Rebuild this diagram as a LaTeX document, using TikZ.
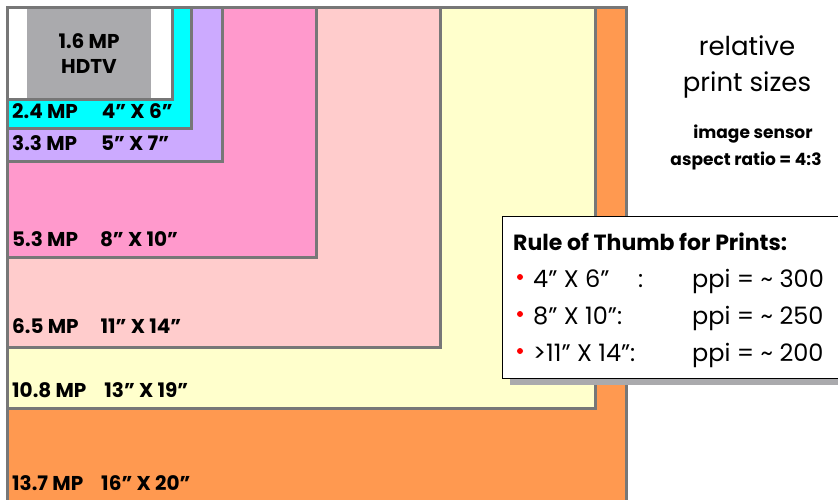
\documentclass[tikz,border=0pt]{standalone}
\usepackage{fontspec}
\setmainfont{Poppins}
\definecolor{cOrange}{RGB}{255,153,80}
\definecolor{cYellow}{RGB}{255,255,204}
\definecolor{cLpink}{RGB}{255,204,204}
\definecolor{cPink}{RGB}{255,153,204}
\definecolor{cLav}{RGB}{204,170,255}
\definecolor{cCyan}{RGB}{0,255,255}
\definecolor{cGray}{RGB}{170,170,173}
\definecolor{bordergray}{RGB}{119,119,119}
\begin{document}
\begin{tikzpicture}[x=1pt,y=-1pt,
  sizebox/.style={draw=bordergray, line width=3pt},
  lbl/.style={anchor=base west, inner sep=0pt, font=\bfseries\fontsize{20}{20}\selectfont},
  rule/.style={anchor=base west, inner sep=0pt, font=\fontsize{24}{24}\selectfont},
  dot/.style={circle, fill=red, inner sep=0pt, minimum size=6pt}]
\useasboundingbox (0,0) rectangle (838,499);
\begin{scope}
\clip (0,0) rectangle (838,499);
\draw[sizebox, fill=cOrange] (7,7) rectangle (626,520);
\end{scope}
\draw[sizebox, fill=cYellow] (7,7) rectangle (595,408);
\draw[sizebox, fill=cLpink] (7,7) rectangle (440,347);
\draw[sizebox, fill=cPink] (7,7) rectangle (316,257);
\draw[sizebox, fill=cLav] (7,7) rectangle (222,161);
\draw[sizebox, fill=cCyan] (7,7) rectangle (191,128);
\fill[white] (7,7) rectangle (172,99);
\fill[cGray] (27,7) rectangle (151,99);
\draw[sizebox] (7,7) rectangle (172,99);
\node[lbl, anchor=base] (hd1) at (89,48) {1.6 MP};
\node[lbl, anchor=base] (hd2) at (89,73) {HDTV};
\node[lbl] (l1) at (12,118) {2.4 MP\hspace{24pt}4” X 6”};
\node[lbl] (l2) at (12,150) {3.3 MP\hspace{24pt}5” X 7”};
\node[lbl] (l3) at (12,246) {5.3 MP\hspace{22pt}8” X 10”};
\node[lbl] (l4) at (12,333) {6.5 MP\hspace{22pt}11” X 14”};
\node[lbl] (l5) at (12,397) {10.8 MP\hspace{18pt}13” X 19”};
\node[lbl] (l6) at (12,490) {13.7 MP\hspace{18pt}16” X 20”};
% right side titles
\node[anchor=base, inner sep=0pt, font=\fontsize{26}{26}\selectfont] (t1) at (747,55) {relative};
\node[anchor=base, inner sep=0pt, font=\fontsize{26}{26}\selectfont] (t2) at (747,91) {print sizes};
\node[anchor=base, inner sep=0pt, font=\bfseries\fontsize{17}{17}\selectfont] (t3) at (753,138) {image sensor};
\node[anchor=base, inner sep=0pt, font=\bfseries\fontsize{17}{17}\selectfont] (t4) at (746,165) {aspect ratio = 4:3};
% rule of thumb box
\fill[cGray] (510,223) rectangle (845,385);
\draw[black, line width=1pt, fill=white] (502,216) rectangle (845,378);
\node[anchor=base west, inner sep=0pt, font=\bfseries\fontsize{22}{22}\selectfont] (rt) at (513,250) {Rule of Thumb for Prints:};
\node[dot] (d1) at (520,277) {};
\node[dot] (d2) at (520,314) {};
\node[dot] (d3) at (520,351) {};
\node[rule] (r1a) at (533,287) {4” X 6”};
\node[rule] (r1c) at (638,287) {:};
\node[rule] (r2a) at (533,324) {8” X 10”:};
\node[rule] (r3a) at (533,361) {>11” X 14”:};
\node[rule] (r1b) at (692,287) {ppi = \textasciitilde{} 300};
\node[rule] (r2b) at (692,324) {ppi = \textasciitilde{} 250};
\node[rule] (r3b) at (692,361) {ppi = \textasciitilde{} 200};
\end{tikzpicture}
\end{document}
